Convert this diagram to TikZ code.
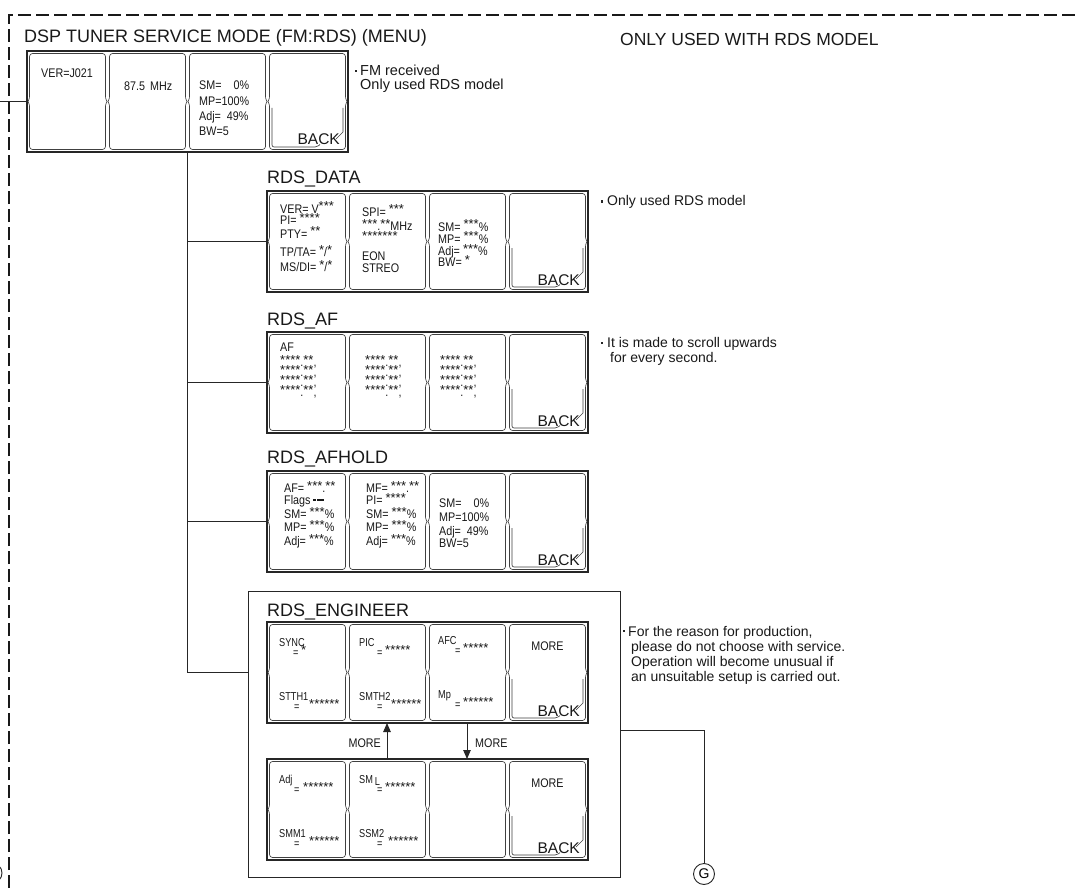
\documentclass[tikz,border=0pt]{standalone}
\usepackage{fontspec}
\setmainfont{Liberation Sans}
\newfontfamily\cellfont[FakeStretch=0.86]{Liberation Sans}
\newfontfamily\engfont[FakeStretch=0.8]{Liberation Sans}
\usetikzlibrary{arrows.meta}
\newcounter{tn}
\newcommand\Tx[3][]{\stepcounter{tn}\node[txt,#1] (t\arabic{tn}) at (#2) {#3};}
\newcommand\sst[1]{\raisebox{2pt}{\rmfamily\fontsize{13}{13}\selectfont #1}}
\newcommand\kv[6]{% name x, name y, name, eq x, stars x, stars
 \Tx[eng]{#1,#2}{#3}%
 \Tx[eng]{#4,#2+10}{=}%
 \Tx[eng]{#5,#2+10}{\sst{#6}}%
}
\tikzset{
 conn/.style={draw=black!85, line width=0.9pt},
 panelbox/.style={draw=black!85, line width=1.2pt, minimum width=321pt, minimum height=101pt, inner sep=0pt, outer sep=0pt},
 cellline/.style={draw=black!75, line width=0.65pt},
 txt/.style={inner sep=0pt, anchor=base west, font=\cellfont\fontsize{12.5}{13}\selectfont, text=black!90},
 eng/.style={font=\engfont\fontsize{11.5}{13}\selectfont},
 backlbl/.style={inner sep=0pt, anchor=base east, font=\fontsize{15.5}{16}\selectfont, text=black!90},
 note/.style={inner sep=0pt, anchor=base west, font=\fontsize{14}{15}\selectfont, text=black!90},
 heading/.style={inner sep=0pt, anchor=base west, font=\fontsize{18}{20}\selectfont, text=black!90},
 bullet/.style={fill=black!85, inner sep=0pt, minimum size=2.4pt},
 arr/.style={conn, -{Triangle[length=9pt,width=7.5pt]}},
}
\newcommand\dcell[4]{%
 \pgfmathsetmacro\cA{#1}\pgfmathsetmacro\cB{#2}\pgfmathsetmacro\cC{#3}\pgfmathsetmacro\cD{#4}%
 \pgfmathsetmacro\cM{(\cB+\cD)/2}%
 \draw[cellline,rounded corners=3pt] (\cA,\cM-4) -- (\cA,\cB) -- (\cC,\cB) -- (\cC,\cM-4);
 \draw[cellline,rounded corners=3pt] (\cA,\cM+4) -- (\cA,\cD) -- (\cC,\cD) -- (\cC,\cM+4);
 \draw[cellline] (\cA,\cM-4) .. controls (\cA,\cM-1.5) and (\cA-1.6,\cM-1) .. (\cA-1.6,\cM) .. controls (\cA-1.6,\cM+1) and (\cA,\cM+1.5) .. (\cA,\cM+4);
 \draw[cellline] (\cC,\cM-4) .. controls (\cC,\cM-1.5) and (\cC+1.6,\cM-1) .. (\cC+1.6,\cM) .. controls (\cC+1.6,\cM+1) and (\cC,\cM+1.5) .. (\cC,\cM+4);
}
\newcommand\mypanel[3]{%
 \node[panelbox,anchor=north west] (#1) at (#2,#3) {};
 \foreach \i in {0,1,2,3}{\dcell{#2+2.5+80*\i}{#3+2.5}{#2+2.5+80*\i+76}{#3+98.5}}
 \draw[cellline,rounded corners=2pt] (#2+245,#3+57) -- (#2+245,#3+96) -- (#2+290,#3+96) -- (#2+293,#3+93.5);
 \draw[cellline] (#2+316,#3+57) -- (#2+316,#3+81) -- (#2+309,#3+88);
 \stepcounter{tn}\node[backlbl] (t\arabic{tn}) at (#2+313,#3+94) {BACK};
}
\begin{document}
\begin{tikzpicture}[x=1pt,y=-1pt]
\useasboundingbox (0,0) rectangle (1077,888);
\fill[white] (0,0) rectangle (1077,888);
\draw[black!90, line width=1.7pt, dash pattern=on 13pt off 5pt] (9,888) -- (9,15) -- (1077,15);

\node[heading] (title) at (24,43) {DSP TUNER SERVICE MODE (FM:RDS) (MENU)};
\node[heading, font=\fontsize{17.5}{20}\selectfont] (onlyrds) at (620,46) {ONLY USED WITH RDS MODEL};
\node[heading] (ldata) at (267,184) {RDS\_DATA};
\node[heading] (laf) at (267,325) {RDS\_AF};
\node[heading] (lafh) at (267,463) {RDS\_AFHOLD};

% engineer outer box
\node[draw=black!85, line width=1pt, anchor=north west, minimum width=372pt, minimum height=286pt, inner sep=0pt, outer sep=0pt] (engbox) at (248,591) {};
\node[heading] (leng) at (267,616) {RDS\_ENGINEER};

\mypanel{menu}{27}{51}
\mypanel{data}{267}{191}
\mypanel{af}{267}{332}
\mypanel{afh}{267}{471}
\mypanel{engup}{267}{622}
\mypanel{engdn}{267}{759}

% connectors
\coordinate (lin) at (0,101.5);
\draw[conn] (lin) -- (menu.west);
\draw[conn] (menu.south) -- (menu.south |- engup.west) -- (engbox.west |- engup.west);
\draw[conn] (menu.south |- data.west) -- (data.west);
\draw[conn] (menu.south |- af.west) -- (af.west);
\draw[conn] (menu.south |- afh.west) -- (afh.west);
\node[draw=black!85, line width=0.9pt, circle, minimum size=21pt, inner sep=0pt, font=\fontsize{14}{14}\selectfont] (G) at (704,874) {G};
\coordinate (gturn) at (704,730);
\draw[conn] (engbox.east |- gturn) -- (gturn) -- (G.north);
\node[draw=black!85, line width=0.9pt, circle, minimum size=20pt, inner sep=0pt] (dleft) at (-8,873) {};
\coordinate (ua) at (387,0);
\coordinate (da) at (467,0);
\draw[arr] (engdn.north -| ua) -- (engup.south -| ua);
\draw[arr] (engup.south -| da) -- (engdn.north -| da);
\Tx[anchor=base east]{381,747}{MORE}
\Tx{475,747}{MORE}

% menu texts
\Tx{41,78}{VER=J021}
\Tx{124,91}{87.5\hspace{5pt}MHz}
\Tx{199,90}{SM=\phantom{10}0\%}
\Tx{199,105.5}{MP=100\%}
\Tx{199,121}{Adj=\phantom{1}49\%}
\Tx{199,136}{BW=5}

% RDS_DATA
\Tx{280,213}{VER= V\sst{***}}
\Tx{280,225}{PI= \sst{****}}
\Tx{280,238}{PTY= \sst{**}}
\Tx{280,256}{TP/TA= \sst{*}/\sst{*}}
\Tx{280,271}{MS/DI= \sst{*}/\sst{*}}
\Tx{362,216}{SPI= \sst{***}}
\Tx{362,230}{\sst{***}.\sst{**}MHz}
\Tx{362,243}{\sst{*******}}
\Tx{362,260}{EON}
\Tx{362,272}{STREO}
\Tx{438,231}{SM= \sst{***}\%}
\Tx{438,243}{MP= \sst{***}\%}
\Tx{438,255}{Adj= \sst{***}\%}
\Tx{438,266}{BW= \sst{*}}

% RDS_AF
\Tx{280,351}{AF}
\foreach \xx in {280,365,440}{\foreach \k in {0,1,2,3}{\Tx{\xx,366+10.3*\k}{\sst{****}.\sst{**},}}}

% RDS_AFHOLD
\Tx{284,492}{AF= \sst{***}.\sst{**}}
\Tx{284,504}{Flags \raisebox{3pt}{\rule{2.5pt}{2.2pt}}\hspace{1.5pt}\raisebox{3pt}{\rule{7pt}{2.2pt}}}
\Tx{284,518}{SM= \sst{***}\%}
\Tx{284,531.5}{MP= \sst{***}\%}
\Tx{284,545}{Adj= \sst{***}\%}
\Tx{366,492}{MF= \sst{***}.\sst{**}}
\Tx{366,504}{PI= \sst{****}}
\Tx{366,518}{SM= \sst{***}\%}
\Tx{366,531.5}{MP= \sst{***}\%}
\Tx{366,545}{Adj= \sst{***}\%}
\Tx{439,507}{SM=\phantom{10}0\%}
\Tx{439,521}{MP=100\%}
\Tx{439,535}{Adj=\phantom{1}49\%}
\Tx{439,547}{BW=5}

% RDS_ENGINEER upper
\kv{279}{646}{SYNC}{293}{301}{*}
\kv{359}{646}{PIC}{377}{385}{*****}
\kv{438}{644}{AFC}{455}{463}{*****}
\Tx[anchor=base]{547.5,650}{MORE}
\kv{279}{700}{STTH1}{294}{309}{******}
\kv{359}{700}{SMTH2}{377}{391}{******}
\kv{438}{698}{Mp}{455}{463}{******}
% lower
\kv{279}{783}{Adj}{294}{303}{******}
\kv{359}{783}{SM\,\raisebox{-2pt}{L}}{377}{385}{******}
\Tx[anchor=base]{547.5,787}{MORE}
\kv{279}{837}{SMM1}{294}{309}{******}
\kv{359}{837}{SSM2}{377}{388}{******}

% notes
\node[bullet] (b1) at (356,71) {};
\node[note, font=\fontsize{14.5}{15}\selectfont] (n1) at (360,75.5) {FM received};
\node[note, font=\fontsize{14.5}{15}\selectfont] (n2) at (360,90) {Only used RDS model};
\node[bullet] (b2) at (602,201.5) {};
\node[note] (n3) at (607,206) {Only used RDS model};
\node[bullet] (b3) at (602,343) {};
\node[note] (n4) at (607,347.5) {It is made to scroll upwards};
\node[note] (n5) at (610,362.5) {for every second.};
\node[bullet] (b4) at (624,631) {};
\node[note] (n6) at (628,636) {For the reason for production,};
\node[note] (n7) at (631,651) {please do not choose with service.};
\node[note] (n8) at (631,666) {Operation will become unusual if};
\node[note] (n9) at (631,681) {an unsuitable setup is carried out.};
\end{tikzpicture}
\end{document}
